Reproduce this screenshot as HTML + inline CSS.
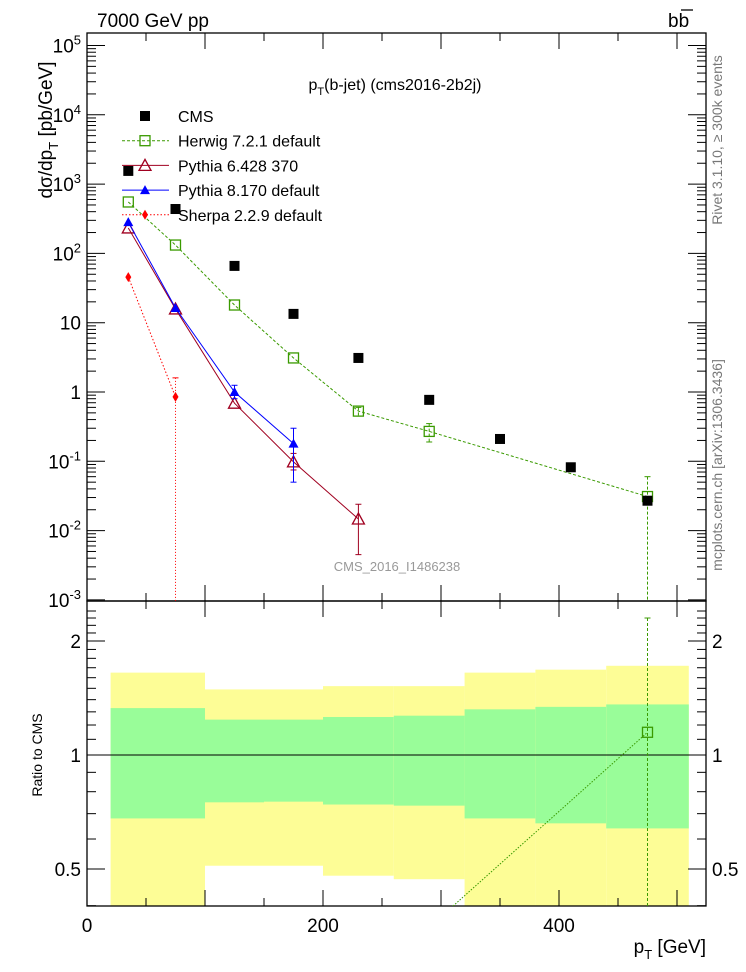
<!DOCTYPE html>
<html><head><meta charset="utf-8"><style>
html,body{margin:0;background:#fff;overflow:hidden;width:746px;height:972px}
svg{font-family:"Liberation Sans",sans-serif;display:block}
</style></head><body>
<svg id="c" width="746" height="972" viewBox="0 0 746 972" xmlns="http://www.w3.org/2000/svg">
<text x="97" y="27" font-size="19">7000 GeV pp</text>
<text x="668" y="27" font-size="19">bb</text>
<line x1="681" y1="10" x2="693" y2="10" stroke="#000" stroke-width="1.3"/>
<text x="395" y="90" font-size="16" text-anchor="middle">p<tspan font-size="11" dy="5">T</tspan><tspan dy="-5">(b-jet) (cms2016-2b2j)</tspan></text>
<text transform="translate(722,140) rotate(-90)" font-size="14" fill="#777" text-anchor="middle">Rivet 3.1.10, ≥ 300k events</text>
<text transform="translate(722,465) rotate(-90)" font-size="14" fill="#777" text-anchor="middle">mcplots.cern.ch [arXiv:1306.3436]</text>
<text transform="translate(52,130) rotate(-90)" font-size="19" text-anchor="middle">dσ/dp<tspan font-size="13" dy="6">T</tspan><tspan dy="-6"> [pb/GeV]</tspan></text>
<text transform="translate(42,755) rotate(-90)" font-size="14" text-anchor="middle">Ratio to CMS</text>
<text x="706" y="953" font-size="19" text-anchor="end">p<tspan font-size="13" dy="6">T</tspan><tspan dy="-6"> [GeV]</tspan></text>
<text x="397" y="571" font-size="13" fill="#999" text-anchor="middle">CMS_2016_I1486238</text>
<g id="g"></g>
</svg>
<script>
const ptVals=[35,75,125,175,230,290,350,410,475];
const cmsVals=[1550,437,66,13.4,3.1,0.77,0.21,0.082,0.027];
const herwigX=[35,75,125,175,230,290,475];
const herwigVals=[552,132,18,3.1,0.53,0.27,0.031];
const herwigLo=[552,132,18,3.1,0.45,0.19,0.0001];
const herwigHi=[552,132,18,3.1,0.6,0.35,0.06];
const py6X=[35,75,125,175,230];
const py6Vals=[233,15.8,0.69,0.098,0.0147];
const py6Lo=[233,15.8,0.69,0.075,0.0045];
const py6Hi=[233,15.8,0.69,0.13,0.024];
const py8X=[35,75,125,175];
const py8Vals=[283,16.3,1.0,0.18];
const py8Lo=[283,16.3,0.8,0.05];
const py8Hi=[283,16.3,1.25,0.3];
const sherpaX=[35,75];
const sherpaVals=[45.5,0.85];
const sherpaLo=[45.5,0.0001];
const sherpaHi=[45.5,1.6];
const binEdges=[20,100,150,200,260,320,380,440,510];
const yellowUp=[1.65,1.49,1.49,1.52,1.52,1.65,1.68,1.72];
const greenUp=[1.33,1.24,1.24,1.26,1.27,1.32,1.34,1.36];
const greenLo=[0.68,0.75,0.753,0.74,0.735,0.68,0.66,0.64];
const yellowLo=[0.3,0.51,0.51,0.48,0.47,0.3,0.3,0.3];
const xTicks=[0,200,400];
const yTicks=[100000,10000,1000,100,10,1,0.1,0.01,0.001];
const yTickLabels=["10^5","10^4","10^3","10^2","10","1","10^-1","10^-2","10^-3"];
const rTicks=[0.5,1,2];
const rTickLabels=["0.5","1","2"];

const L=87,R=706,T=33,B=601,RT=601,RB=906;
const X=v=>L+v*1.18;
const Y=v=>392-Math.log10(v)*69.3;
const RY=v=>755-Math.log2(v)*114;
const ns="http://www.w3.org/2000/svg",g=document.getElementById('g');
function mk(t,a,p){const e=document.createElementNS(ns,t);for(const k in a)e.setAttribute(k,a[k]);(p||g).appendChild(e);return e;}
const defs=mk('defs',{});
const c1=mk('clipPath',{id:'cm'},defs);mk('rect',{x:L,y:T,width:R-L,height:B-T},c1);
const c2=mk('clipPath',{id:'cr'},defs);mk('rect',{x:L,y:RT,width:R-L,height:RB-RT},c2);
const bands=mk('g',{'clip-path':'url(#cr)'});


for(let i=0;i<yellowUp.length;i++){
 const x0=X(binEdges[i]),w=X(binEdges[i+1])-x0;
 const y=mk('rect',{x:x0,y:RY(yellowUp[i]),width:w,height:RY(yellowLo[i])-RY(yellowUp[i]),fill:'#fdfd96'},bands);
 
 
 const gr=mk('rect',{x:x0,y:RY(greenUp[i]),width:w,height:RY(greenLo[i])-RY(greenUp[i]),fill:'#99fd99'},bands);
 
 
}
mk('line',{x1:L,y1:RY(1),x2:R,y2:RY(1),stroke:'#000','stroke-width':1});
mk('rect',{x:L,y:T,width:R-L,height:B-T,fill:'none',stroke:'#000','stroke-width':1.3});
mk('rect',{x:L,y:RT,width:R-L,height:RB-RT,fill:'none',stroke:'#000','stroke-width':1.3});
for(let v=0;v<=520;v+=50){const big=v%100==0;const l=big?16:8;
 [[T,1],[B,-1],[RT,1],[RB,-1]].forEach(([y,d])=>mk('line',{x1:X(v),x2:X(v),y1:y,y2:y+d*l,stroke:'#000'}));}
xTicks.forEach(v=>{const t=mk('text',{x:X(v),y:932,'font-size':19,'text-anchor':'middle'});t.textContent=v;
 
 });
for(let d=-3;d<=5;d++){[L,R].forEach((x,j)=>{const s=j?-1:1;
 mk('line',{x1:x,x2:x+s*18,y1:Y(10**d),y2:Y(10**d),stroke:'#000'});
 if(d<5)for(let m=2;m<10;m++){const y=Y(m*10**d);if(y>T)mk('line',{x1:x,x2:x+s*9,y1:y,y2:y,stroke:'#000'});}});}
yTicks.forEach((v,i)=>{const s=yTickLabels[i];const t=mk('text',{x:81,y:Y(v)+7,'font-size':19,'text-anchor':'end'});
 
 
 if(s.includes('^')){const [b,e]=s.split('^');t.textContent=b;const sp=mk('tspan',{'font-size':13,dy:-8},t);sp.textContent=e;}else t.textContent=s;});
for(let v=0.4;v<=2.5;v+=0.1){const y=RY(v);if(y<RT||y>RB)continue;const big=[0.5,1,2].some(k=>Math.abs(k-v)<1e-6);
 [L,R].forEach((x,j)=>mk('line',{x1:x,x2:x+(j?-1:1)*(big?18:9),y1:y,y2:y,stroke:'#000'}));}
rTicks.forEach((v,i)=>{[[81,'end'],[712,'start']].forEach(([x,a])=>{const t=mk('text',{x:x,y:RY(v)+7,'font-size':19,'text-anchor':a});t.textContent=rTickLabels[i];
 
 });});
const main=mk('g',{'clip-path':'url(#cm)'});
function line(xs,vs,col,dash,w,par,yf){return mk('polyline',{points:xs.map((x,i)=>X(x)+','+yf(vs[i])).join(' '),fill:'none',stroke:col,'stroke-width':w||1,'stroke-dasharray':dash||'none'},par);}
function errs(xs,lo,hi,col,dash,par){xs.forEach((x,i)=>{if(lo[i]==hi[i])return;mk('line',{x1:X(x),x2:X(x),y1:Y(hi[i]),y2:Y(lo[i]),stroke:col,'stroke-dasharray':dash||'none'},par);
 mk('line',{x1:X(x)-3,x2:X(x)+3,y1:Y(hi[i]),y2:Y(hi[i]),stroke:col},par);mk('line',{x1:X(x)-3,x2:X(x)+3,y1:Y(lo[i]),y2:Y(lo[i]),stroke:col},par);});}
function marker(type,x,y,col,par){
 if(type=='sq')return mk('rect',{x:x-5,y:y-5,width:10,height:10,fill:'#000'},par);
 if(type=='osq')return mk('rect',{x:x-5,y:y-5,width:10,height:10,fill:'none',stroke:col,'stroke-width':1.3},par);
 if(type=='otri')return mk('polygon',{points:`${x-6},${y+5} ${x+6},${y+5} ${x},${y-6}`,fill:'none',stroke:col,'stroke-width':1.3},par);
 if(type=='tri')return mk('polygon',{points:`${x-5},${y+4} ${x+5},${y+4} ${x},${y-5}`,fill:col},par);
 if(type=='dia')return mk('polygon',{points:`${x},${y-5} ${x+3},${y} ${x},${y+5} ${x-3},${y}`,fill:col},par);}
const series=[
 {name:'sherpa',xs:sherpaX,vs:sherpaVals,lo:sherpaLo,hi:sherpaHi,col:'#f00',dash:'1.5,2',edash:'1,2',m:'dia'},
 {name:'pythia6',xs:py6X,vs:py6Vals,lo:py6Lo,hi:py6Hi,col:'#a00020',dash:'',edash:'',m:'otri'},
 {name:'pythia8',xs:py8X,vs:py8Vals,lo:py8Lo,hi:py8Hi,col:'#00f',dash:'',edash:'',m:'tri'},
 {name:'herwig',xs:herwigX,vs:herwigVals,lo:herwigLo,hi:herwigHi,col:'#3a9a00',dash:'3,2',edash:'3,2',m:'osq'}];
series.forEach(s=>{const gg=mk('g',{},main);
 
 
 line(s.xs,s.vs,s.col,s.dash,1,gg,Y);errs(s.xs,s.lo,s.hi,s.col,s.edash,gg);
 s.xs.forEach((x,i)=>{const m=marker(s.m,X(x),Y(s.vs[i]),s.col,gg);
  
  });});
const cg=mk('g',{},main);


ptVals.forEach((x,i)=>{const m=marker('sq',X(x),Y(cmsVals[i]),'#000',cg);
 
 });
const rg=mk('g',{'clip-path':'url(#cr)'});


const hr=herwigX.map((x,i)=>herwigVals[i]/cmsVals[ptVals.indexOf(x)]);
mk('polyline',{points:herwigX.map((x,i)=>X(x)+','+RY(hr[i])).join(' '),fill:'none',stroke:'#3a9a00','stroke-dasharray':'1.5,1.5'},rg);
mk('line',{x1:X(475),x2:X(475),y1:RY(2.3),y2:RB,stroke:'#3a9a00','stroke-dasharray':'3,2'},rg);
mk('line',{x1:X(475)-3,x2:X(475)+3,y1:RY(2.3),y2:RY(2.3),stroke:'#3a9a00'},rg);
marker('osq',X(475),RY(hr[hr.length-1]),'#3a9a00',rg);
const leg=[['CMS','sq','#000',''],['Herwig 7.2.1 default','osq','#3a9a00','3,2'],['Pythia 6.428 370','otri','#a00020',''],['Pythia 8.170 default','tri','#00f',''],['Sherpa 2.2.9 default','dia','#f00','1.5,2']];
leg.forEach((l,i)=>{const y=116+i*24.7;const lg=mk('g',{});
 
 
 if(i>0)mk('line',{x1:122,x2:169,y1:y,y2:y,stroke:l[2],'stroke-dasharray':l[3]||'none'},lg);
 marker(l[1],145,y,l[2],lg);
 const t=mk('text',{x:178,y:y+6,'font-size':16},lg);t.textContent=l[0];});
</script>
</body></html>
